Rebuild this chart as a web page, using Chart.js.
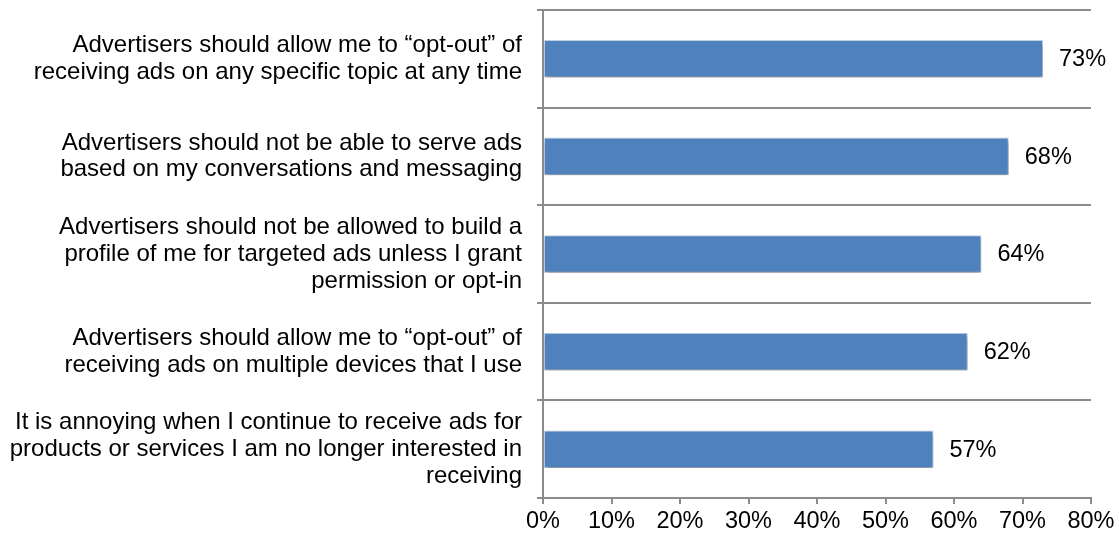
<!DOCTYPE html>
<html>
<head>
<meta charset="utf-8">
<script src="https://cdn.jsdelivr.net/npm/chart.js@4/dist/chart.umd.min.js"></script>
<style>
  html, body { margin: 0; padding: 0; background: #ffffff; }
  #wrap { width: 1119px; height: 538px; position: relative; }
</style>
</head>
<body>
<div id="wrap"><canvas id="chart" width="1119" height="538"></canvas></div>
<script>
// Survey statements (multi-line labels) and share of respondents agreeing
const statements = [
  ["Advertisers should allow me to \u201copt-out\u201d of", "receiving ads on any specific topic at any time"],
  ["Advertisers should not be able to serve ads", "based on my conversations and messaging"],
  ["Advertisers should not be allowed to build a", "profile of me for targeted ads unless I grant", "permission or opt-in"],
  ["Advertisers should allow me to \u201copt-out\u201d of", "receiving ads on multiple devices that I use"],
  ["It is annoying when I continue to receive ads for", "products or services I am no longer interested in", "receiving"]
];
const agreePct = [73, 68, 64, 62, 57];
const axisTicks = [0, 10, 20, 30, 40, 50, 60, 70, 80];

const FONT = "'Liberation Sans', Arial, sans-serif";
const AXIS_GREY = '#8c8c8c';

// Soft drop shadow under the bars
const barShadow = {
  id: 'barShadow',
  beforeDatasetsDraw(chart) {
    const ctx = chart.ctx;
    ctx.save();
    ctx.shadowColor = 'rgba(0,0,0,0.38)';
    ctx.shadowBlur = 5;
    ctx.shadowOffsetX = 1;
    ctx.shadowOffsetY = 3;
  },
  afterDatasetsDraw(chart) {
    chart.ctx.restore();
  }
};

// Percentage labels to the right of each bar
const valueLabels = {
  id: 'valueLabels',
  afterDraw(chart) {
    const ctx = chart.ctx;
    const meta = chart.getDatasetMeta(0);
    ctx.save();
    ctx.font = '23.5px ' + FONT;
    ctx.fillStyle = '#000000';
    ctx.textAlign = 'left';
    ctx.textBaseline = 'middle';
    meta.data.forEach((bar, i) => {
      ctx.fillText(agreePct[i] + '%', bar.x + 16, bar.y + 1);
    });
    ctx.restore();
  }
};

new Chart(document.getElementById('chart'), {
  type: 'bar',
  data: {
    labels: statements,
    datasets: [{
      data: agreePct,
      backgroundColor: '#4f81bd',
      borderColor: '#c9d7ea',
      borderWidth: 1,
      borderSkipped: false,
      barPercentage: 0.385,
      categoryPercentage: 1.0
    }]
  },
  options: {
    indexAxis: 'y',
    responsive: false,
    animation: false,
    devicePixelRatio: 1,
    layout: { padding: { top: 10, right: 28, left: 0, bottom: 0 } },
    plugins: {
      legend: { display: false },
      tooltip: { enabled: false }
    },
    scales: {
      x: {
        min: 0,
        max: 80,
        afterBuildTicks(scale) {
          scale.ticks = axisTicks.map(v => ({ value: v }));
        },
        afterFit(scale) {
          scale.height = 40;
          scale.paddingLeft = 0;
          scale.paddingRight = 0;
        },
        border: { display: true, color: AXIS_GREY, width: 2 },
        grid: {
          drawOnChartArea: false,
          drawTicks: true,
          tickLength: 6,
          color: AXIS_GREY,
          lineWidth: 2
        },
        ticks: {
          padding: 3,
          color: '#000000',
          font: { family: FONT, size: 23.5 },
          callback: v => v + '%'
        }
      },
      y: {
        afterFit(scale) {
          scale.width = 543;
          scale.paddingTop = 0;
          scale.paddingBottom = 0;
        },
        border: { display: true, color: AXIS_GREY, width: 2 },
        grid: {
          offset: true,
          drawOnChartArea: true,
          drawTicks: true,
          tickLength: 6,
          color: AXIS_GREY,
          lineWidth: 2
        },
        ticks: {
          padding: 15,
          color: '#000000',
          font: { family: FONT, size: 24, lineHeight: 1.12 }
        }
      }
    }
  },
  plugins: [barShadow, valueLabels]
});
</script>
</body>
</html>
